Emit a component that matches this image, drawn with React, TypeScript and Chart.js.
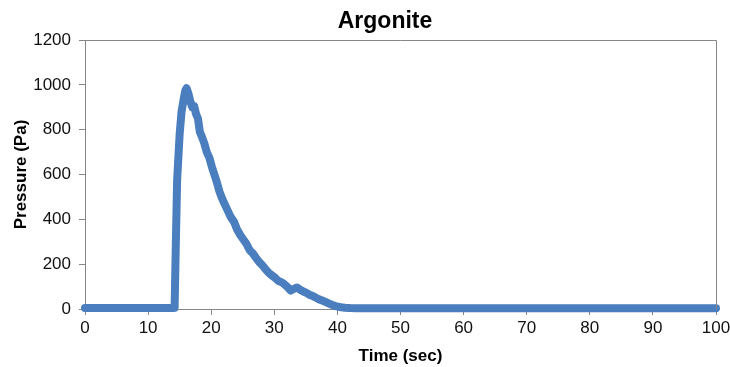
import React, { useEffect, useRef } from "react";
import { Chart, registerables } from "chart.js";

Chart.register(...registerables);

const TITLE = "Argonite";
const X_TITLE = "Time (sec)";
const Y_TITLE = "Pressure (Pa)";

const timeSec: number[] = [
  0, 5, 10, 14, 14.2, 14.4, 14.6, 15.0, 15.3, 15.6, 15.9, 16.1, 16.4, 16.7, 17.0, 17.3, 17.6,
  17.9, 18.2, 18.5, 18.9, 19.3, 19.7, 20.1, 20.5, 20.9, 21.3, 21.7, 22.1, 22.6, 23.1, 23.6,
  24.1, 24.6, 25.1, 25.6, 26.1, 26.6, 27.1, 27.6, 28.1, 28.6, 29.1, 29.6, 30.1, 30.6, 31.1,
  31.6, 32.1, 32.6, 33.1, 33.6, 34.1, 34.6, 35.1, 35.6, 36.1, 36.6, 37.1, 37.6, 38.1, 38.6,
  39.1, 39.6, 40.1, 40.6, 41.2, 42, 43, 45, 50, 60, 70, 80, 90, 100,
];

const pressurePa: number[] = [
  4, 4, 4, 4, 5, 300, 575, 780, 880, 930, 975, 985, 960, 925, 900, 905, 870,
  850, 790, 770, 740, 700, 675, 635, 600, 565, 525, 495, 470, 440, 410, 390,
  355, 330, 310, 290, 262, 248, 228, 210, 195, 178, 162, 150, 140, 126, 120,
  110, 98, 82, 90, 96, 86, 78, 72, 63, 58, 50, 43, 38, 32, 25,
  19, 14, 10, 8, 6, 4, 3, 3, 3, 3, 3, 3, 3, 3,
];

const AXIS_COLOR = "#868686";
const LINE_COLOR = "#4A7EBF";
const FONT = "'Liberation Sans', Arial, sans-serif";

export default function App() {
  const ref = useRef<HTMLCanvasElement | null>(null);

  useEffect(() => {
    if (!ref.current) return;
    const framePlugin = {
      id: "frameAndTitle",
      afterDraw(chart: any) {
        const { ctx, chartArea } = chart;
        ctx.save();
        ctx.strokeStyle = AXIS_COLOR;
        ctx.lineWidth = 1;
        ctx.beginPath();
        ctx.moveTo(chartArea.left, chartArea.top + 0.5);
        ctx.lineTo(chartArea.right + 0.5, chartArea.top + 0.5);
        ctx.lineTo(chartArea.right + 0.5, chartArea.bottom);
        ctx.stroke();
        ctx.fillStyle = "#000";
        ctx.font = `bold 23px ${FONT}`;
        ctx.textAlign = "center";
        ctx.textBaseline = "middle";
        ctx.fillText(TITLE, 385, 22);
        ctx.restore();
      },
    };

    const chart = new Chart(ref.current, {
      type: "line",
      data: {
        datasets: [
          {
            label: "Pressure",
            data: timeSec.map((t, i) => ({ x: t, y: pressurePa[i] })),
            borderColor: LINE_COLOR,
            backgroundColor: LINE_COLOR,
            borderWidth: 8,
            pointRadius: 0,
            tension: 0,
            borderJoinStyle: "round",
            borderCapStyle: "round",
            clip: false,
          } as any,
        ],
      },
      options: {
        responsive: false,
        animation: false,
        layout: { padding: { top: 40, right: 14, left: 0, bottom: 0 } },
        plugins: {
          legend: { display: false },
          title: { display: false },
          tooltip: { enabled: false },
        },
        scales: {
          x: {
            type: "linear",
            min: 0,
            max: 100,
            ticks: {
              stepSize: 10,
              color: "#111",
              font: { family: FONT, size: 17 },
              padding: 3,
              maxRotation: 0,
              callback: (v: any) => String(v),
            },
            grid: {
              drawOnChartArea: false,
              drawTicks: true,
              tickLength: 6,
              color: AXIS_COLOR,
            },
            border: { color: AXIS_COLOR },
            title: {
              display: true,
              text: X_TITLE,
              color: "#000",
              font: { family: FONT, size: 17, weight: "bold" },
              padding: { top: 0, bottom: 0 },
            },
            afterFit(scale: any) {
              scale.height = 58;
              scale.paddingLeft = 0;
              scale.paddingRight = 0;
            },
          },
          y: {
            min: 0,
            max: 1200,
            ticks: {
              stepSize: 200,
              color: "#111",
              font: { family: FONT, size: 17 },
              padding: 8,
              callback: (v: any) => String(v),
            },
            grid: {
              drawOnChartArea: false,
              drawTicks: true,
              tickLength: 6,
              color: AXIS_COLOR,
            },
            border: { color: AXIS_COLOR },
            title: {
              display: true,
              text: Y_TITLE,
              color: "#000",
              font: { family: FONT, size: 17, weight: "bold" },
              padding: { top: 11, bottom: 2 },
            },
            afterFit(scale: any) {
              scale.width = 85;
              scale.paddingTop = 0;
              scale.paddingBottom = 0;
            },
          },
        },
      },
      plugins: [framePlugin],
    });
    return () => chart.destroy();
  }, []);

  return (
    <div style={{ position: "absolute", left: 0, top: 0, width: 730, height: 367, background: "#fff" }}>
      <canvas ref={ref} width={730} height={367} />
    </div>
  );
}
